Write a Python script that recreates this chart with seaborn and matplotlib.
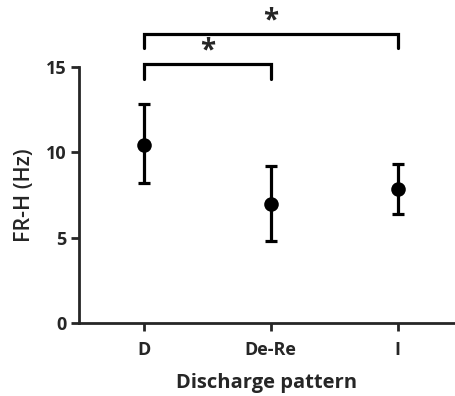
import matplotlib
matplotlib.use("Agg")
import matplotlib.pyplot as plt
import seaborn as sns
import pandas as pd

categories = ["D", "De-Re", "I"]
means = [10.45, 6.97, 7.85]
err_low = [8.2, 4.8, 6.4]
err_high = [12.83, 9.2, 9.3]

sns.set_style("ticks")
plt.rcParams['font.family'] = ['Open Sans', 'DejaVu Sans']

df = pd.DataFrame({"cat": categories, "mean": means})

fig = plt.figure(figsize=(4.55, 3.96), dpi=100)
ax = fig.add_axes([0.1736, 0.1843, 0.8264, 0.6465])

xs = list(range(len(categories)))
yerr = [[m - l for m, l in zip(means, err_low)], [h - m for m, h in zip(means, err_high)]]
ax.errorbar(xs, means, yerr=yerr, fmt="none", ecolor="black", elinewidth=2.3,
            capsize=4.5, capthick=2.3, zorder=2)
sns.scatterplot(data=df, x="cat", y="mean", ax=ax, color="black", s=110,
                edgecolor="black", linewidth=0, zorder=3, legend=False)

ax.set_xlim(-0.51, 2.45)
ax.set_ylim(0, 15)
ax.set_yticks([0, 5, 10, 15])
ax.set_xticks(xs)
ax.set_xticklabels(categories)

for side in ["top", "right"]:
    ax.spines[side].set_visible(False)
for side in ["left", "bottom"]:
    ax.spines[side].set_linewidth(2.0)
ax.tick_params(axis="both", width=2.0, length=6, labelsize=13, pad=3)
ax.tick_params(axis="x", pad=7)
for lbl in ax.get_xticklabels() + ax.get_yticklabels():
    lbl.set_fontweight("bold")

ax.set_xlabel("Discharge pattern", fontsize=14.5, fontweight="bold", labelpad=10)
ax.set_ylabel("FR-H (Hz)", fontsize=15.5, fontweight="semibold", labelpad=8)

# significance brackets
def bracket(x1, x2, y, h):
    ax.plot([x1, x1, x2, x2], [y - h, y, y, y - h], color="black", lw=2.3,
            clip_on=False, solid_joinstyle="miter")
    ax.text((x1 + x2) / 2, y - 0.1, "*", ha="center", va="bottom",
            fontsize=20, fontweight="bold", clip_on=False)

bracket(0, 1, 15.17, 0.9)
bracket(0, 2, 16.93, 0.8)

fig.savefig("out.png", dpi=100)
